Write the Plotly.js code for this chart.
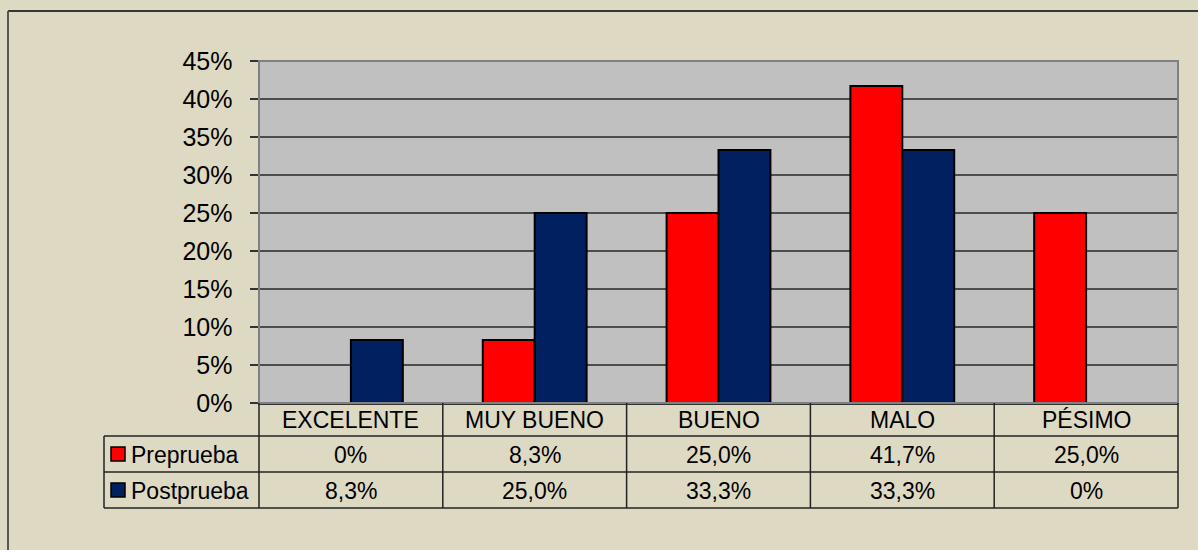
<!DOCTYPE html>
<html>
<head>
<meta charset="utf-8">
<script src="https://cdn.plot.ly/plotly-3.0.1.min.js"></script>
<style>
html,body{margin:0;padding:0;background:#DDD9C3;}
#chart{width:1198px;height:550px;}
</style>
</head>
<body>
<div id="chart"></div>
<script>
// ---- data ----
const categories = ['EXCELENTE', 'MUY BUENO', 'BUENO', 'MALO', 'PÉSIMO'];
const seriesNames = ['Preprueba', 'Postprueba'];
const preprueba = [0, 0.083, 0.25, 0.417, 0.25];
const postprueba = [0.083, 0.25, 0.333, 0.333, 0];
const seriesColors = ['#FF0000', '#002060'];

function fmt(v) {
  if (v === 0) return '0%';
  return (v * 100).toFixed(1).replace('.', ',') + '%';
}

const W = 1198, H = 550;
const L = 259, R = 1178, T = 61, B = 403;
const pw = R - L, ph = B - T;
const px = x => (x - L) / pw;
const py = y => (B - y) / ph;

const font = 'Arial, "Liberation Sans", sans-serif';
const traces = [preprueba, postprueba].map((vals, i) => ({
  type: 'bar',
  name: seriesNames[i],
  x: categories,
  y: vals,
  marker: {color: seriesColors[i], line: {color: '#000', width: 2}},
  hoverinfo: 'x+y'
}));

const lineCol = '#222';
const shapes = [];
function seg(x0, y0, x1, y1, color, width) {
  shapes.push({type: 'line', xref: 'paper', yref: 'paper', x0: px(x0), y0: py(y0), x1: px(x1), y1: py(y1),
    line: {color: color || lineCol, width: width || 1.5}, layer: 'above'});
}
// outer chart border
seg(8, 11, W + 5, 11, '#000', 1.5);
seg(8, 11, 8, H + 5, '#555', 2);
// plot area border
shapes.push({type: 'rect', xref: 'paper', yref: 'paper', x0: 0, y0: 0, x1: 1, y1: 1,
  line: {color: '#808080', width: 2}, layer: 'above'});
// table lines
const rowLines = [436, 472, 508];
rowLines.forEach(y => seg(104, y, R, y, lineCol, 1.5));
for (let i = 0; i <= categories.length; i++) {
  const x = L + pw * i / categories.length;
  seg(x, B, x, 508, lineCol, 1.5);
}
seg(104, 436, 104, 508, lineCol, 1.5);

// legend keys
const keyRows = [454, 490];
keyRows.forEach((cy, i) => {
  shapes.push({type: 'rect', xref: 'paper', yref: 'paper',
    x0: px(111), x1: px(125), y0: py(cy - 7), y1: py(cy + 7),
    fillcolor: seriesColors[i], line: {color: '#000', width: 1.5}, layer: 'above'});
});

const annotations = [];
const tfont = {family: font, size: 23, color: '#000'};
categories.forEach((c, i) => {
  annotations.push({xref: 'x', yref: 'paper', x: c, y: py(420), text: c, showarrow: false,
    xanchor: 'center', yanchor: 'middle', font: tfont});
  [preprueba, postprueba].forEach((vals, s) => {
    annotations.push({xref: 'x', yref: 'paper', x: c, y: py(keyRows[s] + 1), text: fmt(vals[i]), showarrow: false,
      xanchor: 'center', yanchor: 'middle', font: tfont});
  });
});
seriesNames.forEach((n, s) => {
  annotations.push({xref: 'paper', yref: 'paper', x: px(129), y: py(keyRows[s] + 1), text: n, showarrow: false,
    xanchor: 'left', yanchor: 'middle', font: tfont});
});

const layout = {
  width: W, height: H,
  margin: {l: L, r: W - R, t: T, b: H - B, pad: 0},
  paper_bgcolor: '#DDD9C3',
  plot_bgcolor: '#C0C0C0',
  showlegend: false,
  barmode: 'group',
  bargap: 0.435,
  bargroupgap: 0,
  xaxis: {
    type: 'category', range: [-0.5, 4.5], showticklabels: false, ticks: '',
    showgrid: false, showline: true, linecolor: '#333', linewidth: 1.5, zeroline: false, fixedrange: true
  },
  yaxis: {
    range: [0, 0.45], dtick: 0.05, tick0: 0, tickformat: '.0%',
    showgrid: true, gridcolor: '#4d4d4d', gridwidth: 1.5,
    ticks: 'outside', ticklen: 8, tickcolor: '#333', tickwidth: 1.5,
    showline: true, linecolor: '#333', linewidth: 1.5, zeroline: false,
    ticklabelstandoff: 12,
    tickfont: {family: font, size: 25, color: '#000'}, fixedrange: true
  },
  shapes: shapes,
  annotations: annotations
};

Plotly.newPlot('chart', traces, layout, {displayModeBar: false, staticPlot: true});
</script>
</body>
</html>
